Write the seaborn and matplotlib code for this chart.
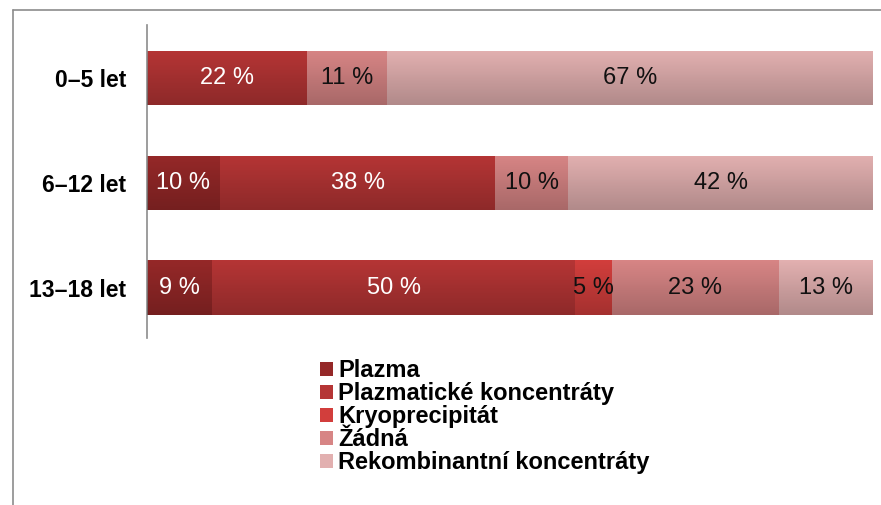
import numpy as np
import pandas as pd
import matplotlib
matplotlib.use("Agg")
import matplotlib.pyplot as plt
from matplotlib.lines import Line2D
from matplotlib.patches import Patch
import seaborn as sns

# ── Data ──────────────────────────────────────────────────────────────────────
categories = ["0–5 let", "6–12 let", "13–18 let"]
series_names = ["Plazma", "Plazmatické koncentráty", "Kryoprecipitát",
                "Žádná", "Rekombinantní koncentráty"]
plazma = [0, 10, 9]
plazm_konc = [22, 38, 50]
kryo = [0, 0, 5]
zadna = [11, 10, 23]
rekomb = [67, 42, 13]

colors = ["#952828", "#b53535", "#d23e3c", "#d78585", "#e2b0b0"]
text_colors = ["white", "white", "#111111", "#111111", "#111111"]
BAR_W = 0.52

sns.set_theme(style="white")
plt.rcParams["font.family"] = ["Liberation Sans", "DejaVu Sans"]
plt.rcParams["text.color"] = "black"

values = np.array([plazma, plazm_konc, kryo, zadna, rekomb], dtype=float)
cum = np.cumsum(values, axis=0)

fig = plt.figure(figsize=(8.81, 5.05), dpi=100)
ax = fig.add_axes([147 / 881, 1 - 338 / 505, (873 - 147) / 881, (338 - 25) / 505])

# stacked bars: draw cumulative totals from the back to the front
for i in range(len(series_names) - 1, -1, -1):
    df = pd.DataFrame({"cat": categories, "val": cum[i]})
    sns.barplot(data=df, x="val", y="cat", orient="h", color=colors[i],
                saturation=1, width=BAR_W, ax=ax, linewidth=0)

# soft vertical shading on each bar (lighter top, darker bottom)
grad = np.zeros((64, 2, 4))
grad[..., 3] = np.linspace(0.0, 0.22, 64)[:, None]
for j in range(len(categories)):
    ax.imshow(grad, extent=(0, cum[-1, j], j + BAR_W / 2, j - BAR_W / 2),
              aspect="auto", interpolation="bilinear", zorder=3)

# value labels
for i in range(len(series_names)):
    for j, cat in enumerate(categories):
        v = values[i, j]
        if v <= 0:
            continue
        ax.text(cum[i, j] - v / 2, j, f"{int(v)} %", ha="center", va="center",
                fontsize=17, color=text_colors[i], zorder=4)

ax.set_xlim(0, 100)
ax.set_ylim(2.48, -0.505)
ax.set_xlabel("")
ax.set_ylabel("")
ax.set_xticks([])
for s in ["top", "right", "bottom"]:
    ax.spines[s].set_visible(False)
ax.spines["left"].set_color("#8c8c8c")
ax.spines["left"].set_linewidth(1.2)
ax.tick_params(axis="y", length=0, pad=15)
for lbl in ax.get_yticklabels():
    lbl.set_fontweight("bold")
    lbl.set_fontsize(16.5)
    lbl.set_color("black")

# legend
handles = [Patch(facecolor=c, edgecolor="none") for c in colors]
leg = fig.legend(handles, series_names, loc="upper left",
                 bbox_to_anchor=(320 / 881, 1 - 359 / 505), frameon=False,
                 prop={"weight": "bold", "size": 17}, handlelength=0.55,
                 handleheight=0.55, handletextpad=0.22, labelspacing=0.0,
                 borderaxespad=0, borderpad=0)
for t in leg.get_texts():
    t.set_color("black")

# outer frame (top and left edges)
fig.add_artist(Line2D([13 / 881, 13 / 881], [0, 1 - 10 / 505],
                      transform=fig.transFigure, color="#8c8c8c", linewidth=1.2))
fig.add_artist(Line2D([13 / 881, 1], [1 - 10 / 505, 1 - 10 / 505],
                      transform=fig.transFigure, color="#8c8c8c", linewidth=1.2))

fig.savefig("out.png", dpi=100)
